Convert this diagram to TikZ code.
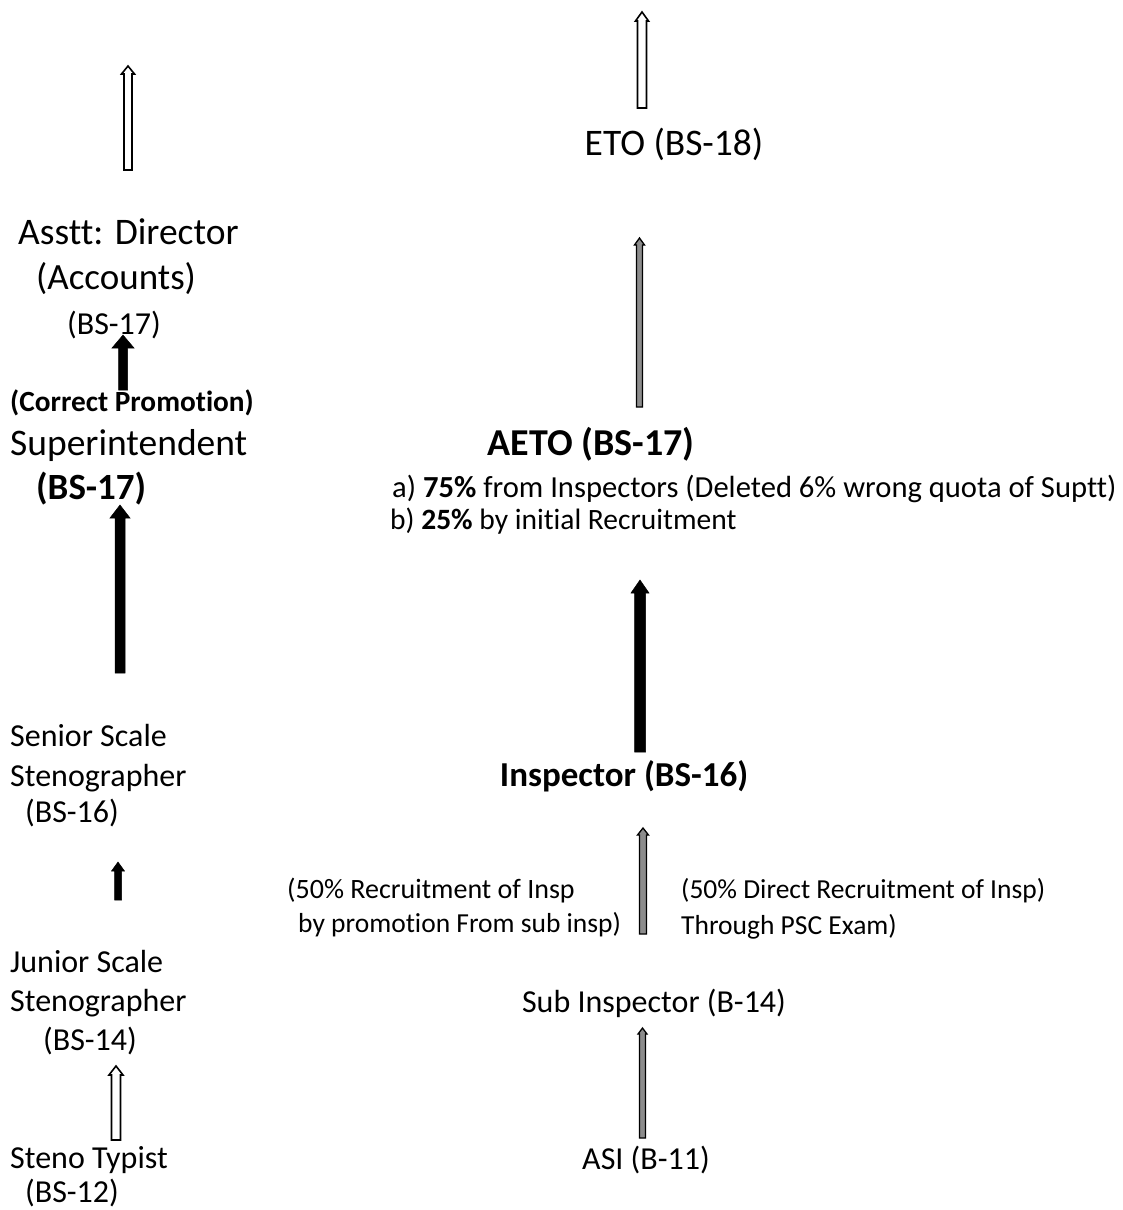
\documentclass[tikz,border=0pt]{standalone}
\usepackage{fontspec}
\setmainfont{Carlito}[Ligatures=NoCommon]
\newcommand{\vArr}[7]{%
  \draw[#1] (#2-#5,#4) -- (#2-#5,#3+#7) -- (#2-#6,#3+#7) -- (#2,#3)
    -- (#2+#6,#3+#7) -- (#2+#5,#3+#7) -- (#2+#5,#4) -- cycle;}
\tikzset{
  lbl/.style={inner sep=0pt, font=\fontsize{32}{38}\selectfont},
  lblbig/.style={inner sep=0pt, font=\fontsize{37.5}{44}\selectfont},
  lblsm/.style={inner sep=0pt, font=\fontsize{27.5}{33}\selectfont},
  hollowarr/.style={draw=black, line width=1.6pt, fill=white, line join=miter},
  greyarr/.style={draw=black, line width=1.3pt, fill=black!45},
  solidarr/.style={draw=black, line width=0.5pt, fill=black},
}
\begin{document}
\begin{tikzpicture}[x=1pt,y=-1pt]
\useasboundingbox (0,0) rectangle (1122,1210);
\fill[white] (0,0) rectangle (1122,1210);

% ---------- left column ----------
\node[lblbig, anchor=base west] (ad1) at (18,244) {Asstt: Director};
\node[lblbig, anchor=base west, font=\fontsize{37}{44}\selectfont] (ad2) at (36,289) {(Accounts)};
\node[lbl, anchor=base west] (ad3) at (67,334) {(BS-17)};
\node[inner sep=0pt, anchor=base west, font=\fontsize{29.3}{34}\selectfont\bfseries] (cp) at (10,411) {(Correct Promotion)};
\node[lblbig, anchor=base west] (su1) at (10,455) {Superintendent};
\node[inner sep=0pt, anchor=base west, font=\fontsize{37}{44}\selectfont\bfseries] (su2) at (36,499) {(BS-17)};
\node[lbl, anchor=base west] (ss1) at (10,746) {Senior Scale};
\node[lbl, anchor=base west] (ss2) at (10,786) {Stenographer};
\node[lbl, anchor=base west] (ss3) at (25,822) {(BS-16)};
\node[lbl, anchor=base west] (js1) at (10,972) {Junior Scale};
\node[lbl, anchor=base west] (js2) at (10,1011) {Stenographer};
\node[lbl, anchor=base west] (js3) at (43,1050) {(BS-14)};
\node[lbl, anchor=base west] (st1) at (10,1168) {Steno Typist};
\node[lbl, anchor=base west] (st2) at (25,1202) {(BS-12)};

% ---------- right column ----------
\node[lblbig, anchor=base] (eto) at (674,155) {ETO (BS-18)};
\node[inner sep=0pt, anchor=base, font=\fontsize{38}{44}\selectfont\bfseries] (aeto) at (591,455) {AETO (BS-17)};
\node[inner sep=0pt, anchor=base west, font=\fontsize{30.6}{36}\selectfont] (qa) at (392,497) {a) \textbf{75\%} from Inspectors (Deleted 6\% wrong quota of Suptt)};
\node[inner sep=0pt, anchor=base west, font=\fontsize{29.5}{35}\selectfont] (qb) at (390,529) {b) \textbf{25\%} by initial Recruitment};
\node[inner sep=0pt, anchor=base, font=\fontsize{35}{41}\selectfont\bfseries] (insp) at (624,786) {Inspector (BS-16)};
\node[lblsm, anchor=base west, font=\fontsize{28}{33}\selectfont] (r1) at (287,898) {(50\% Recruitment of Insp};
\node[lblsm, anchor=base west] (r2) at (298,932) {by promotion From sub insp)};
\node[lblsm, anchor=base west] (d1) at (681,898) {(50\% Direct Recruitment of Insp)};
\node[lblsm, anchor=base west] (d2) at (681,934) {Through PSC Exam)};
\node[lbl, anchor=base] (si) at (654,1012) {Sub Inspector (B-14)};
\node[lbl, anchor=base] (asi) at (646,1169) {ASI (B-11)};

% ---------- arrows (left) ----------
\vArr{hollowarr}{128}{66}{170}{4}{6.5}{8}
\vArr{solidarr}{123}{335}{390}{4.5}{11}{13}
\vArr{solidarr}{120}{505}{673}{5}{10}{13}
\vArr{solidarr}{118}{862}{900}{3.5}{6.5}{9}
\vArr{hollowarr}{116}{1066}{1140}{4.5}{7}{9}

% ---------- arrows (right) ----------
\vArr{hollowarr}{642}{12}{108}{4.5}{6.5}{9}
\vArr{greyarr}{639.5}{238}{407}{3}{5}{7}
\vArr{solidarr}{640}{580}{752}{5.5}{9}{13}
\vArr{greyarr}{643}{828}{934}{3.5}{5.5}{7}
\vArr{greyarr}{642.5}{1028}{1138}{3}{4.5}{6}
\end{tikzpicture}
\end{document}
